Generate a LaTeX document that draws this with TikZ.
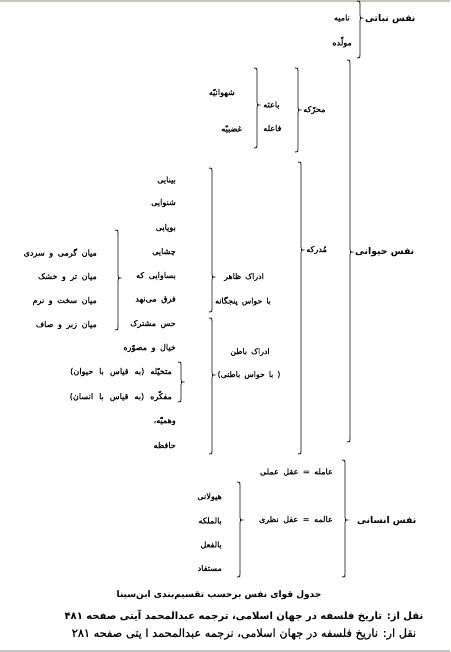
\documentclass[tikz,border=0pt]{standalone}
\usepackage{fontspec}
\TeXXeTstate=1
\newfontfamily\arf[Script=Arabic,FakeBold=0.5]{DejaVu Sans}
\newfontfamily\arfb[Script=Arabic]{DejaVu Sans Bold}
\newcommand\RT[1]{\beginR #1\endR}
\newcommand\spA{\spaceskip=4.5pt plus 1pt minus 0pt\relax}
\newcommand\spB{\spaceskip=6pt plus 1pt minus 0pt\relax}
\newcommand\spC{\spaceskip=4pt plus 1pt minus 0pt\relax}
\newcommand\brc[4]{\draw[brc] (#1-3,#2) .. controls (#1,#2) .. (#1,#2+3) -- (#1,#3-3) .. controls (#1,#3) .. (#1+3.5,#3) .. controls (#1,#3) .. (#1,#3+3) -- (#1,#4-3) .. controls (#1,#4) .. (#1-3,#4);}
\definecolor{edge}{HTML}{C8C5BE}
\begin{document}
\begin{tikzpicture}[x=1pt,y=-1pt,
  brc/.style={line width=0.8pt,black},
  itm/.style={anchor=east,inner sep=0pt,font=\arf\fontsize{8.1}{10}\selectfont\spA},
  wide/.style={font=\arf\fontsize{8.1}{10}\selectfont\spB},
  sub/.style={anchor=west,inner sep=0pt,font=\arf\fontsize{8.1}{10}\selectfont},
  mid/.style={inner sep=0pt,font=\arf\fontsize{7.8}{10}\selectfont\spC},
  head/.style={anchor=west,inner sep=0pt,font=\arfb\fontsize{9.3}{11}\selectfont},
  captitle/.style={inner sep=0pt,font=\arfb\fontsize{9}{11}\selectfont},
  capsrc/.style={inner sep=0pt,font=\arfb\fontsize{10}{12}\selectfont},
  capreg/.style={inner sep=0pt,font=\arf\fontsize{11.3}{12}\selectfont}]
\useasboundingbox (0,0) rectangle (450,652);
\fill[white] (0,0) rectangle (450,652);
\fill[edge] (0,0) rectangle (450,2.5);
\fill[edge] (0,649.5) rectangle (450,652);
% vegetative
\brc{360}{1}{18}{58}
\node[head] (nabati) at (365,19) {\RT{نفس نباتی}};
\node[itm] (namiye) at (350,18) {\RT{نامیه}};
\node[itm] (movallede) at (352,42) {\RT{مولّده}};
% animal
\brc{350}{60}{252}{442}
\node[head] (heyvani) at (355,252) {\RT{نفس حیوانی}};
\brc{298}{68}{110}{152}
\node[sub] (moharreke) at (303,110) {\RT{محرّکه}};
\brc{257}{68}{105}{148}
\node[sub] (baese) at (263,105) {\RT{باعثه}};
\node[sub] (faele) at (263,128) {\RT{فاعله}};
\node[itm] (shahvani) at (235,93) {\RT{شهوانیّه}};
\node[itm] (ghazabi) at (242,129) {\RT{غضبیّه}};
\brc{301}{162}{250}{454}
\node[sub] (modreke) at (306,250) {\RT{مُدرکه}};
\brc{212}{168}{277}{312}
\node[mid] (zaher) at (244,277) {\RT{ادراک ظاهر}};
\node[mid] (panjgane) at (243,301) {\RT{با حواس پنجگانه}};
\node[itm] (i1) at (176,180) {\RT{بینایی}};
\node[itm] (i2) at (176,203) {\RT{شنوایی}};
\node[itm] (i3) at (176,228) {\RT{بویایی}};
\node[itm] (i4) at (176,252) {\RT{چشایی}};
\node[itm] (i5) at (176,276) {\RT{بساوایی که}};
\node[itm] (i6) at (176,300) {\RT{فرق می‌نهد}};
\brc{118}{230}{278}{330}
\node[itm] (m1) at (97,253) {\RT{میان گرمی و سردی}};
\node[itm] (m2) at (97,277) {\RT{میان تر و خشک}};
\node[itm] (m3) at (97,301) {\RT{میان سخت و نرم}};
\node[itm] (m4) at (97,325) {\RT{میان زبر و صاف}};
\brc{212}{318}{375}{454}
\node[mid] (baten) at (250,352) {\RT{ادراک باطن}};
\node[mid] (bavaten) at (249,375) {\RT{( با حواس باطنی)}};
\node[itm] (j1) at (176,324) {\RT{حس مشترک}};
\node[itm] (j2) at (176,348) {\RT{خیال و مصوّره}};
\node[itm,wide] (j3) at (172,372) {\RT{متخیّله (به قیاس با حیوان)}};
\node[itm,wide] (j4) at (172,396) {\RT{مفکّره (به قیاس با انسان)}};
\node[itm] (j5) at (176,421) {\RT{وهمیّه،}};
\node[itm] (j6) at (176,445) {\RT{حافظه}};
\brc{181}{362}{382}{402}
% human
\brc{345}{460}{520}{577}
\node[head] (ensani) at (357,521) {\RT{نفس انسانی}};
\node[itm] (amele) at (333,472) {\RT{عامله = عقل عملی}};
\node[itm] (aleme) at (333,520) {\RT{عالمه = عقل نظری}};
\brc{240}{482}{520}{577}
\node[itm] (k1) at (222,497) {\RT{هیولانی}};
\node[itm] (k2) at (222,521) {\RT{بالملکه}};
\node[itm] (k3) at (222,545) {\RT{بالفعل}};
\node[itm] (k4) at (222,568) {\RT{مستفاد}};
% captions
\node[captitle] (title) at (219,595) {\RT{جدول قوای نفس برحسب تقسیم‌بندی ابن‌سینا}};
\node[capsrc] (src1) at (244,616) {\RT{نقل از: تاریخ فلسفه در جهان اسلامی، ترجمه عبدالمحمد آیتی صفحه \beginL ۴۸۱\endL}};
\node[capreg] (src2) at (244,634) {\RT{نقل ار: ناریخ فلسفه در جهان اسلامی، نرجمه عبدالمحمد ا یتی صفحه \beginL ۲۸۱\endL}};
\end{tikzpicture}
\end{document}
